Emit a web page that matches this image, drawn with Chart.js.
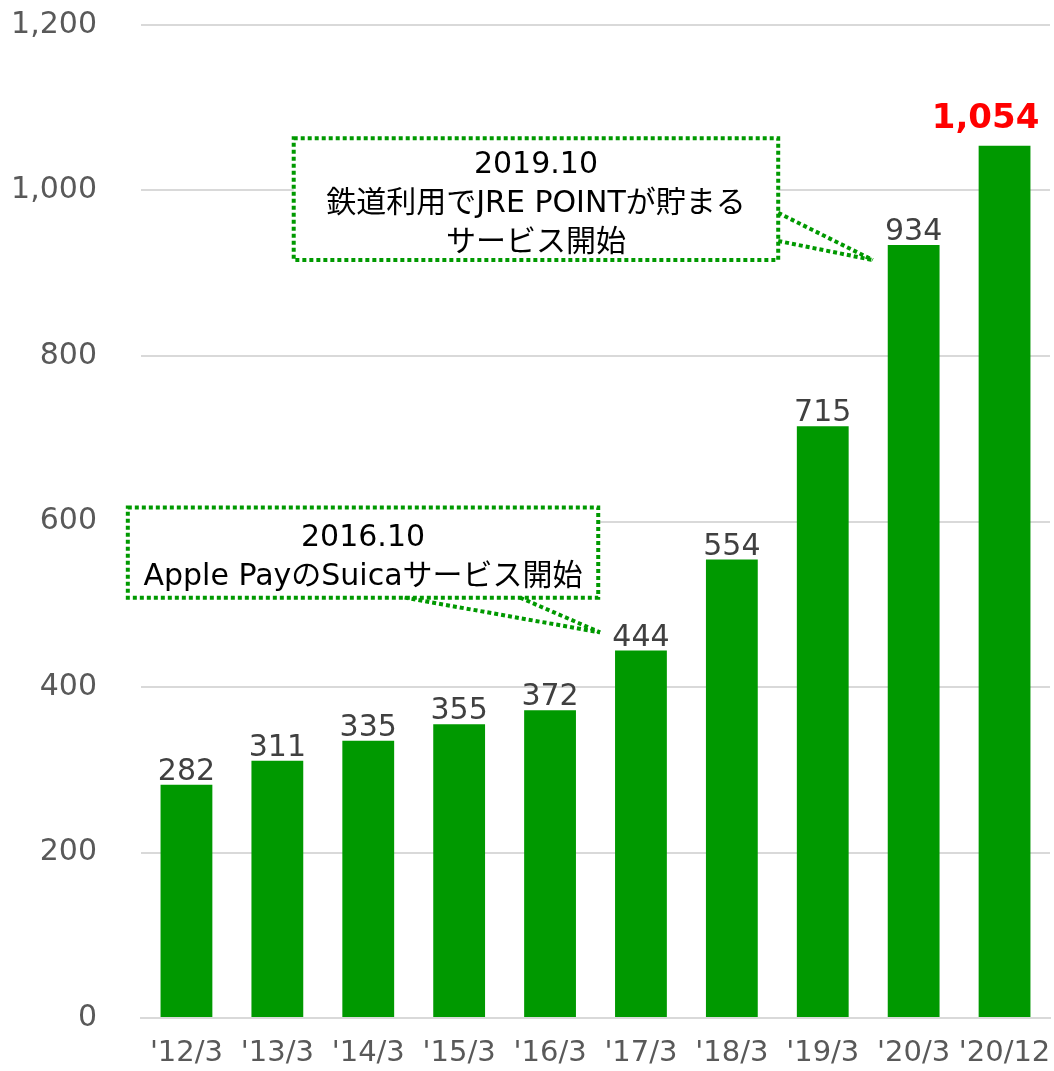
<!DOCTYPE html>
<html>
<head>
<meta charset="utf-8">
<script src="https://cdn.jsdelivr.net/npm/chart.js@4/dist/chart.umd.min.js"></script>
<style>
html,body{margin:0;padding:0;background:#fff;}
#wrap{width:1054px;height:1071px;position:relative;}
</style>
</head>
<body>
<div id="wrap"><canvas id="c" width="1054" height="1071"></canvas></div>
<script>
const categories = ["'12/3","'13/3","'14/3","'15/3","'16/3","'17/3","'18/3","'19/3","'20/3","'20/12"];
const values = [282,311,335,355,372,444,554,715,934,1054];
const valueLabels = ["282","311","335","355","372","444","554","715","934","1,054"];
const yTicks = [0,200,400,600,800,1000,1200];
const highlightIndex = 9;

const notes = [
  {lines:["2019.10","鉄道利用でJRE POINTが貯まる","サービス開始"],
   box:{x0:1.18,x1:6.51,y0:1063,y1:916},
   tip:{x:7.55,y:916},
   bases:[{x:6.51,y:973},{x:6.51,y:939}]},
  {lines:["2016.10","Apple PayのSuicaサービス開始"],
   box:{x0:-0.645,x1:4.53,y0:617,y1:508},
   tip:{x:4.55,y:466},
   bases:[{x:2.40,y:508},{x:3.67,y:508}]}
];

const FONT = "'DejaVu Sans', 'Noto Sans CJK JP', sans-serif";
const NOTE_FONT = "'DejaVu Sans', 'Noto Sans CJK JP', sans-serif";

const labelPlugin = {
  id:'labels',
  afterDatasetsDraw(chart){
    const ctx = chart.ctx;
    const meta = chart.getDatasetMeta(0);
    ctx.save();
    ctx.textAlign='center';
    ctx.textBaseline='alphabetic';
    meta.data.forEach((bar,i)=>{
      if(i===highlightIndex){
        ctx.fillStyle='#ff0000';
        ctx.font="bold 34px "+FONT;
        ctx.fillText(valueLabels[i], bar.x-19, bar.y-18);
      } else {
        ctx.fillStyle='#404040';
        ctx.font="30px "+FONT;
        ctx.fillText(valueLabels[i], bar.x, bar.y-5);
      }
    });
    ctx.restore();
  }
};

const notePlugin = {
  id:'notes',
  afterDatasetsDraw(chart){
    const ctx = chart.ctx;
    const xs = chart.scales.x, ys = chart.scales.y;
    const px = v => xs.getPixelForValue(v);
    const py = v => ys.getPixelForValue(v);
    ctx.save();
    notes.forEach(n=>{
      const l=px(n.box.x0), r=px(n.box.x1), t=py(n.box.y0), b=py(n.box.y1);
      ctx.strokeStyle='#009900';
      ctx.lineWidth=4;
      ctx.setLineDash([4,3]);
      ctx.fillStyle='#ffffff';
      ctx.fillRect(l,t,r-l,b-t);
      ctx.strokeRect(l,t,r-l,b-t);
      n.bases.forEach(bs=>{
        ctx.beginPath();
        ctx.moveTo(px(bs.x),py(bs.y));
        ctx.lineTo(px(n.tip.x),py(n.tip.y));
        ctx.stroke();
      });
      ctx.setLineDash([]);
      ctx.fillStyle='#000000';
      ctx.font="30px "+NOTE_FONT;
      ctx.textAlign='center';
      ctx.textBaseline='middle';
      const cx=(l+r)/2;
      const lh=39;
      const startY=(t+b)/2-(n.lines.length-1)*lh/2+5;
      n.lines.forEach((s,k)=>ctx.fillText(s,cx,startY+k*lh));
    });
    ctx.restore();
  }
};

new Chart(document.getElementById('c'),{
  type:'bar',
  data:{labels:categories,datasets:[{data:values,backgroundColor:'#009900',barPercentage:0.57,categoryPercentage:1.0}]},
  options:{
    responsive:false,animation:false,
    layout:{padding:{top:25,right:4,left:0,bottom:0}},
    plugins:{legend:{display:false},tooltip:{enabled:false}},
    scales:{
      x:{
        grid:{display:false,drawTicks:false},
        border:{display:true,color:'#d9d9d9',width:2},
        ticks:{color:'#595959',font:{family:FONT,size:29},padding:18,maxRotation:0,autoSkip:false},
        afterFit(s){s.height=53;s.paddingLeft=0;s.paddingRight=0;}
      },
      y:{
        min:0,max:1200,
        afterBuildTicks(s){s.ticks=yTicks.map(v=>({value:v}));},
        grid:{color:'#d9d9d9',lineWidth:2,drawTicks:false},
        border:{display:false},
        ticks:{color:'#595959',font:{family:FONT,size:30},padding:44,
          callback:v=>v.toLocaleString('en-US')},
        afterFit(s){s.width=141;s.paddingTop=0;s.paddingBottom=0;}
      }
    }
  },
  plugins:[labelPlugin,notePlugin]
});
</script>
</body>
</html>
